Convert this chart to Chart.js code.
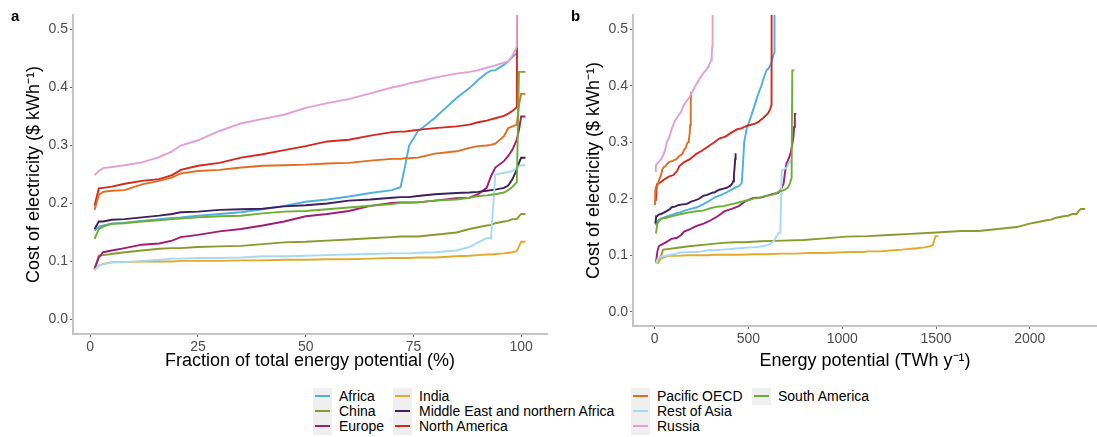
<!DOCTYPE html>
<html>
<head>
<meta charset="utf-8">
<script src="https://cdn.jsdelivr.net/npm/chart.js@4.4.1/dist/chart.umd.min.js"></script>
<style>
  body { margin: 0; background: #fff; font-family: "Liberation Sans", Arial, sans-serif; }
  #wrap { position: relative; width: 1097px; height: 437px; overflow: hidden; }
  canvas { position: absolute; top: 0; }
  .tag { position: absolute; top: 8px; font: bold 15px/15px "Liberation Sans", Arial, sans-serif; color: #000; }
  .leg { position: absolute; height: 15px; font: 14px/15px "Liberation Sans", Arial, sans-serif; color: #000; white-space: nowrap; }
  .key { position: absolute; left: 0; top: -1px; width: 19px; height: 17px; background: #efefef; }
  .key i { position: absolute; left: 2px; top: 7px; width: 15px; height: 2px; }
  .leg span { position: absolute; left: 26px; top: 0; }
</style>
</head>
<body>
<div id="wrap">
  <canvas id="chartA" width="560" height="380" style="left:0"></canvas>
  <canvas id="chartB" width="537" height="380" style="left:560px"></canvas>
  <div class="tag" style="left:11px">a</div>
  <div class="tag" style="left:571px">b</div>
  <div id="legend"></div>
</div>
<script>
// cumulative share of each region's potential (%), shared by all curves
const pct = [1, 2, 3, 5, 8, 12, 16, 19, 21, 25, 30, 35, 40, 45, 50, 55, 60, 65, 70, 72, 73, 74, 76, 80, 85, 88, 90, 92, 93, 94, 96, 97, 98, 99, 99.5, 100, 101];

// cost of electricity ($/kWh) at each pct step
const africa = [0.153, 0.160, 0.162, 0.165, 0.167, 0.170, 0.173, 0.175, 0.176, 0.179, 0.182, 0.185, 0.190, 0.196, 0.203, 0.207, 0.212, 0.218, 0.223, 0.228, 0.262, 0.300, 0.324, 0.348, 0.382, 0.399, 0.413, 0.425, 0.429, 0.430, 0.439, 0.445, 0.453, 0.459, 1.5, null, null];
const china = [0.088, 0.110, 0.111, 0.113, 0.116, 0.119, 0.122, 0.123, 0.123, 0.125, 0.126, 0.127, 0.130, 0.133, 0.134, 0.136, 0.138, 0.140, 0.142, 0.143, 0.143, 0.143, 0.143, 0.146, 0.150, 0.156, 0.159, 0.162, 0.163, 0.166, 0.169, 0.170, 0.173, 0.173, 0.178, 0.182, 0.182];
const europe = [0.087, 0.107, 0.116, 0.119, 0.123, 0.129, 0.131, 0.136, 0.142, 0.146, 0.152, 0.156, 0.162, 0.169, 0.178, 0.182, 0.187, 0.196, 0.201, 0.202, 0.202, 0.202, 0.202, 0.205, 0.209, 0.210, 0.216, 0.227, 0.247, 0.262, 0.273, 0.282, 0.293, 0.310, 0.327, 0.350, 0.350];
const india = [0.085, 0.093, 0.096, 0.099, 0.099, 0.100, 0.100, 0.100, 0.101, 0.101, 0.101, 0.102, 0.102, 0.103, 0.103, 0.104, 0.104, 0.105, 0.106, 0.106, 0.106, 0.106, 0.107, 0.107, 0.109, 0.110, 0.111, 0.112, 0.112, 0.113, 0.114, 0.115, 0.116, 0.118, 0.126, 0.134, 0.134];
const mena = [0.156, 0.169, 0.169, 0.172, 0.173, 0.176, 0.179, 0.182, 0.185, 0.186, 0.189, 0.190, 0.191, 0.195, 0.197, 0.200, 0.205, 0.207, 0.210, 0.211, 0.211, 0.211, 0.213, 0.216, 0.218, 0.219, 0.220, 0.222, 0.223, 0.224, 0.227, 0.231, 0.242, 0.259, 0.270, 0.279, 0.279];
const northAmerica = [0.196, 0.226, 0.227, 0.229, 0.234, 0.239, 0.242, 0.249, 0.258, 0.265, 0.270, 0.279, 0.285, 0.292, 0.299, 0.307, 0.310, 0.317, 0.323, 0.324, 0.324, 0.325, 0.327, 0.330, 0.333, 0.336, 0.340, 0.343, 0.345, 0.347, 0.351, 0.355, 0.360, 0.366, 1.5, null, null];
const pacificOecd = [0.189, 0.215, 0.220, 0.222, 0.223, 0.233, 0.239, 0.245, 0.252, 0.256, 0.258, 0.262, 0.265, 0.266, 0.267, 0.269, 0.270, 0.274, 0.277, 0.277, 0.278, 0.278, 0.279, 0.286, 0.290, 0.296, 0.299, 0.300, 0.301, 0.303, 0.316, 0.330, 0.333, 0.336, 0.370, 0.389, 0.389];
const restOfAsia = [0.085, 0.093, 0.095, 0.098, 0.099, 0.101, 0.103, 0.105, 0.105, 0.106, 0.106, 0.107, 0.109, 0.109, 0.110, 0.111, 0.112, 0.113, 0.114, 0.114, 0.114, 0.114, 0.115, 0.116, 0.119, 0.125, 0.133, 0.140, 0.140, 0.250, 0.253, 0.254, 0.256, 0.262, 0.264, 0.266, 0.266];
const russia = [0.249, 0.256, 0.261, 0.263, 0.266, 0.271, 0.280, 0.290, 0.300, 0.309, 0.325, 0.338, 0.346, 0.353, 0.365, 0.373, 0.380, 0.390, 0.400, 0.403, 0.405, 0.407, 0.410, 0.417, 0.424, 0.427, 0.430, 0.434, 0.436, 0.438, 0.443, 0.445, 0.455, 0.470, 1.5, null, null];
const southAmerica = [0.139, 0.156, 0.160, 0.165, 0.166, 0.169, 0.171, 0.173, 0.174, 0.176, 0.178, 0.179, 0.183, 0.186, 0.187, 0.190, 0.193, 0.196, 0.199, 0.201, 0.201, 0.201, 0.202, 0.205, 0.207, 0.210, 0.213, 0.214, 0.215, 0.216, 0.219, 0.223, 0.229, 0.237, 0.427, 0.427, 0.427];

const regions = ["Africa", "China", "Europe", "India", "Middle East and northern Africa", "North America", "Pacific OECD", "Rest of Asia", "Russia", "South America"];
const costs = [africa, china, europe, india, mena, northAmerica, pacificOecd, restOfAsia, russia, southAmerica];
// total energy potential at the end of each curve (TWh/y)
const totals = [652, 2294, 755, 1513, 436, 636, 197, 728, 314, 745];
const colors = ["#4eaee6", "#8a9b2e", "#a31c74", "#e2aa2c", "#3f1f5e", "#d5281f", "#e26c1f", "#a8d9f2", "#e0a0d3", "#6baf33"];

const yTicks = [0, 0.1, 0.2, 0.3, 0.4, 0.5];
const xTicksA = [0, 25, 50, 75, 100];
const xTicksB = [0, 500, 1000, 1500, 2000];

Chart.defaults.font.family = "'Liberation Sans', Arial, sans-serif";
Chart.defaults.color = "#4d4d4d";

function makeDatasets(xOf) {
  return regions.map((name, i) => ({
    label: name,
    data: pct.map((p, j) => ({ x: xOf(p, i), y: costs[i][j] })),
    borderColor: colors[i],
    borderWidth: 1.9,
    pointRadius: 0,
    tension: 0,
    fill: false,
    order: regions.length - i,
  }));
}

function axisBase(ticks) {
  return {
    type: "linear",
    afterBuildTicks: (s) => { s.ticks = ticks.map((v) => ({ value: v })); },
    grid: { drawOnChartArea: false, drawTicks: true, tickLength: 3, color: "#666" },
    border: { display: true, color: "#c4c4c4", width: 2 },
  };
}

function makeChart(id, xOf, xMin, xMax, xTicks, xTitle, xHeight, rightPad) {
  const xAxis = axisBase(xTicks);
  xAxis.min = xMin;
  xAxis.max = xMax;
  xAxis.ticks = { font: { size: 14 }, padding: 2, color: "#4d4d4d", maxRotation: 0, callback: (v) => String(v) };
  xAxis.title = { display: true, text: xTitle, color: "#000", font: { size: 18 }, padding: { top: 0, bottom: 8 } };
  xAxis.afterFit = (s) => { s.height = xHeight; };

  const yAxis = axisBase(yTicks);
  yAxis.min = -0.025;
  yAxis.max = 0.525;
  yAxis.ticks = { font: { size: 14 }, padding: 2, color: "#4d4d4d", callback: (v) => v.toFixed(1) };
  yAxis.title = { display: true, text: "Cost of electricity ($ kWh\u207B\u00B9)", color: "#000", font: { size: 18 }, padding: { top: 23, bottom: 0 } };
  yAxis.afterFit = (s) => { s.width = 73; };

  new Chart(document.getElementById(id).getContext("2d"), {
    type: "line",
    data: { datasets: makeDatasets(xOf) },
    options: {
      responsive: false,
      animation: false,
      devicePixelRatio: 1,
      layout: { padding: { left: 0, right: rightPad, top: 15, bottom: 0 } },
      plugins: { legend: { display: false }, tooltip: { enabled: false } },
      scales: { x: xAxis, y: yAxis },
    },
  });
}

document.addEventListener("DOMContentLoaded", () => {
  // panel a: share of potential
  makeChart("chartA", (p) => p, -4, 106, xTicksA, "Fraction of total energy potential (%)", 46, 13);
  // panel b: absolute potential
  makeChart("chartB", (p, i) => (p / 101) * totals[i], -115, 2358, xTicksB, "Energy potential (TWh y\u207B\u00B9)", 54, 0);

  // legend, 3 rows per column
  const colLeft = [313, 393, 631, 752];
  const rowTop = [389, 404, 419];
  const legend = document.getElementById("legend");
  regions.forEach((name, i) => {
    const el = document.createElement("div");
    el.className = "leg";
    el.style.left = colLeft[Math.floor(i / 3)] + "px";
    el.style.top = rowTop[i % 3] + "px";
    el.innerHTML = '<div class="key"><i style="background:' + colors[i] + '"></i></div><span>' + name + "</span>";
    legend.appendChild(el);
  });
});
</script>
</body>
</html>
